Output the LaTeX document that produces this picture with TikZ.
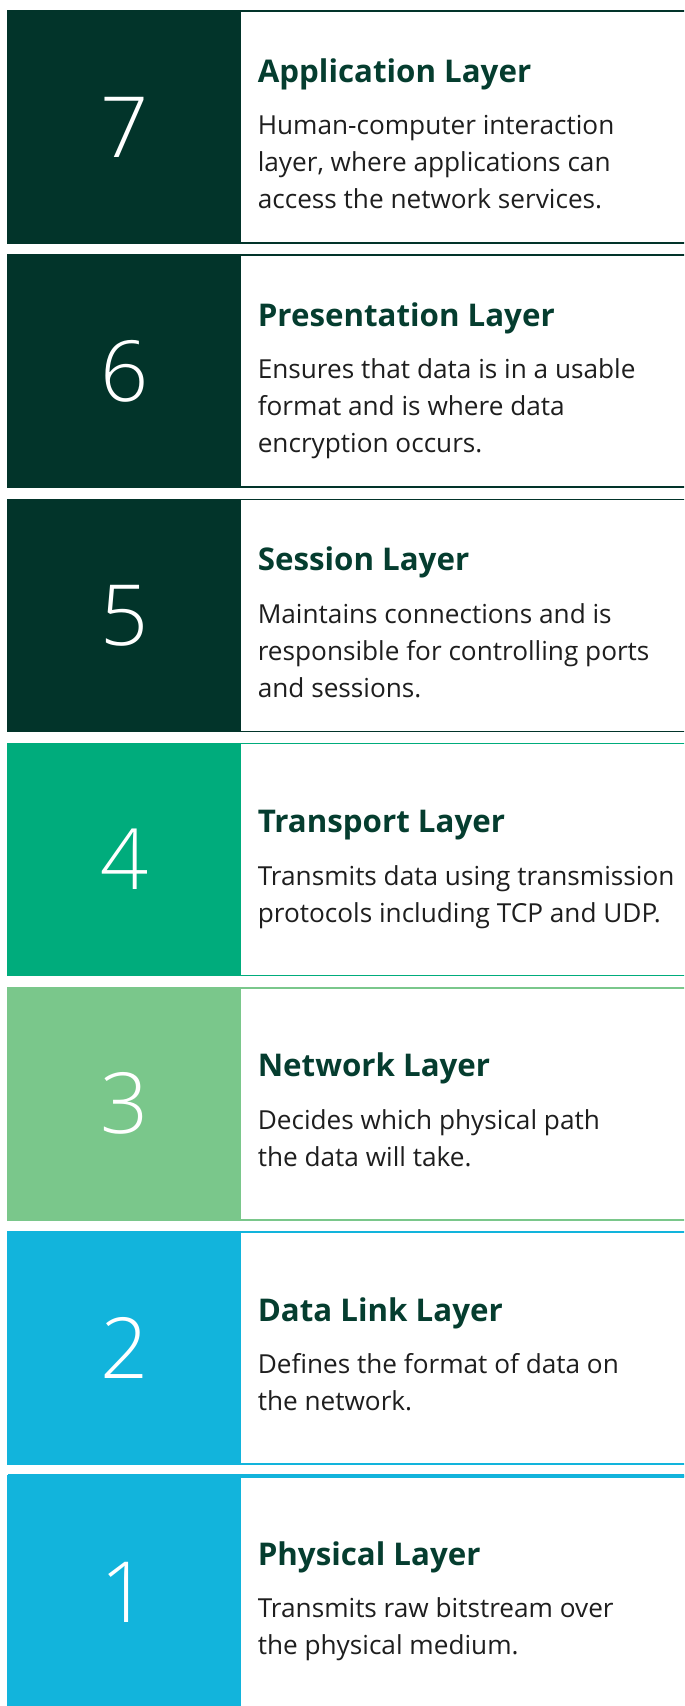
\documentclass[tikz,border=0pt]{standalone}
\usepackage{fontspec}
\setmainfont{Open Sans}
\newfontfamily\numfont{Open Sans Light}
\usetikzlibrary{positioning}
\definecolor{cdark}{HTML}{02342A}
\definecolor{cmint}{HTML}{00AC7C}
\definecolor{csage}{HTML}{7AC78B}
\definecolor{csky}{HTML}{12B4DC}
\definecolor{ctitle}{HTML}{053D2F}
\definecolor{ctext}{HTML}{1E1E1E}
\tikzset{
  every picture/.style={line width=0.45pt},
  card/.style={draw=#1, fill=white},
  num/.style={font=\numfont\fontsize{24}{24}\selectfont, text=white, inner sep=0pt},
  title/.style={font=\fontsize{8.9}{10}\selectfont\bfseries, text=ctitle, anchor=base west, inner sep=0pt},
  desc/.style={font=\fontsize{7.45}{10.53}\selectfont, text=ctext, align=left, inner sep=0pt},
}

\begin{document}
\begin{tikzpicture}
  \clip (0,0) rectangle (6.84,-17.06);
  \fill[white] (0,0) rectangle (6.84,-17.06);
  % ---------- one card per layer, top to bottom ----------
  \foreach \n/\col/\name/\txt/\dy [count=\i from 0] in {
    7/cdark/Application Layer/{Human-computer interaction\\layer, where applications can\\access the network services.}/0,
    6/cdark/Presentation Layer/{Ensures that data is in a usable\\format and is where data\\encryption occurs.}/0,
    5/cdark/Session Layer/{Maintains connections and is\\responsible for controlling ports\\and sessions.}/0,
    4/cmint/Transport Layer/{Transmits data using transmission\\protocols including TCP and UDP.}/0.18,
    3/csage/Network Layer/{Decides which physical path\\the data will take.}/0.18,
    2/csky/Data Link Layer/{Defines the format of data on\\the network.}/0.18,
    1/csky/Physical Layer/{Transmits raw bitstream over\\the physical medium.}/0.18} {
    \coordinate (top\n) at (0.08, -0.11-2.442*\i);
    \draw[card=\col] (top\n) rectangle ++(7, -2.32);
    \fill[\col] (top\n) rectangle ++(2.33, -2.32);
    \node[num] (n\n) at (1.245, -1.27-2.442*\i) {\n};
    \node[title] (t\n) at (2.57, -0.82-2.442*\i-\dy) {\name};
    \node[desc, below=0.32cm of t\n.base west, anchor=north west] (d\n) {\txt};
  }
  % bottom card has a heavier top rule
  \draw[csky, line width=1.1pt] (top1) -- ++(7, 0);
\end{tikzpicture}
\end{document}
